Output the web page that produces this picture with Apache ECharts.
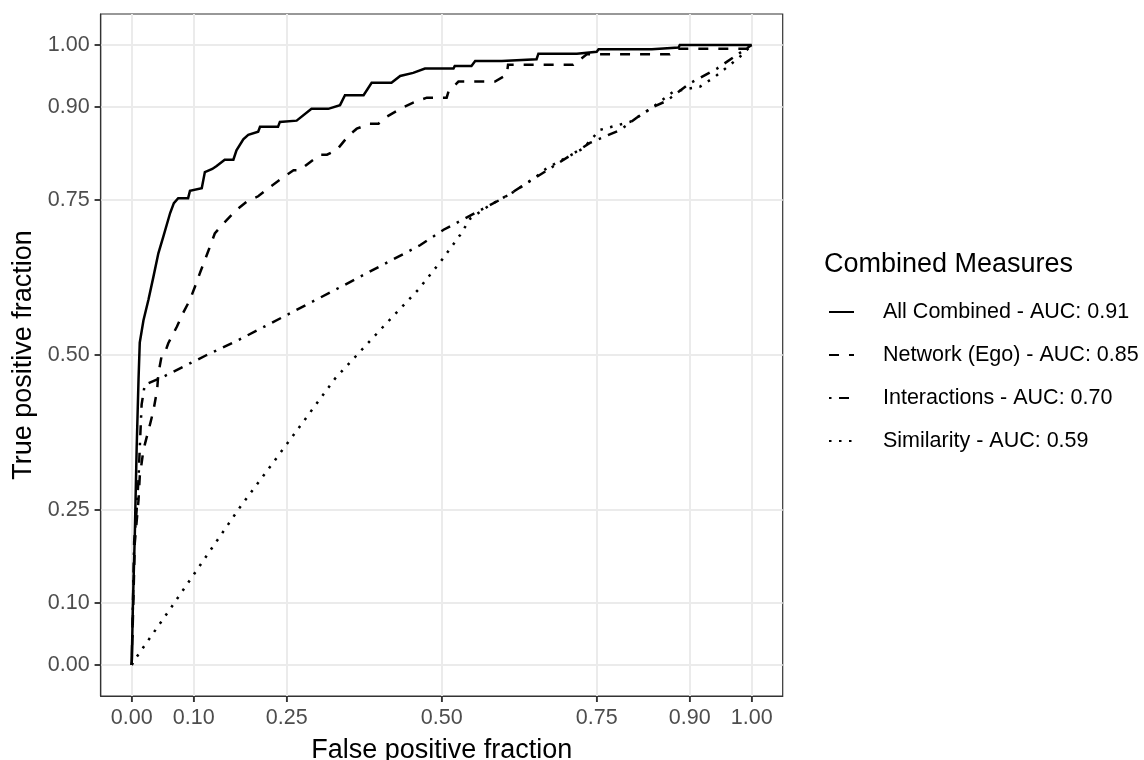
<!DOCTYPE html>
<html><head><meta charset="utf-8">
<script src="https://cdn.jsdelivr.net/npm/echarts@6/dist/echarts.min.js"></script>
<style>html,body{margin:0;padding:0;background:#fff}#c{width:1144px;height:760px}</style>
</head><body><div id="c"></div>
<script>
const xBreaks = [0, 0.1, 0.25, 0.5, 0.75, 0.9, 1];
const yBreaks = [0, 0.1, 0.25, 0.5, 0.75, 0.9, 1];
const legendTitle = 'Combined Measures';
const seriesNames = ['All Combined - AUC: 0.91', 'Network (Ego) - AUC: 0.85', 'Interactions - AUC: 0.70', 'Similarity - AUC: 0.59'];

const allFpr = [0,0.002,0.005,0.008,0.011,0.013,0.019,0.027,0.035,0.043,0.051,0.062,0.068,0.075,0.091,0.094,0.113,0.118,0.13,0.137,0.150,0.164,0.169,0.180,0.188,0.204,0.207,0.236,0.239,0.266,0.29,0.317,0.336,0.344,0.374,0.387,0.419,0.433,0.454,0.473,0.519,0.521,0.548,0.554,0.597,0.600,0.653,0.656,0.718,0.72,0.75,0.753,0.839,0.842,0.882,0.884,1.0];
const allTpr = [0,0.1,0.21,0.35,0.46,0.52,0.556,0.589,0.626,0.664,0.691,0.729,0.745,0.753,0.753,0.765,0.769,0.795,0.8,0.805,0.815,0.815,0.83,0.848,0.855,0.86,0.868,0.868,0.876,0.878,0.897,0.897,0.903,0.919,0.919,0.939,0.939,0.95,0.955,0.962,0.962,0.966,0.966,0.974,0.974,0.977,0.977,0.986,0.986,0.989,0.989,0.993,0.993,0.996,0.996,1.0,1.0];

const egoFpr = [0,0.003,0.005,0.011,0.013,0.018,0.021,0.03,0.035,0.041,0.043,0.048,0.054,0.059,0.073,0.083,0.094,0.102,0.110,0.124,0.134,0.148,0.169,0.185,0.204,0.223,0.242,0.261,0.271,0.285,0.304,0.315,0.331,0.349,0.363,0.384,0.398,0.411,0.435,0.454,0.476,0.508,0.511,0.527,0.586,0.605,0.607,0.712,0.734,0.868,0.881,0.992,1];
const egoTpr = [0,0.116,0.197,0.266,0.304,0.34,0.355,0.39,0.41,0.444,0.47,0.497,0.505,0.519,0.546,0.568,0.589,0.61,0.632,0.669,0.696,0.712,0.734,0.747,0.756,0.771,0.785,0.798,0.798,0.809,0.823,0.823,0.831,0.853,0.865,0.873,0.873,0.884,0.898,0.907,0.915,0.915,0.925,0.941,0.941,0.952,0.968,0.968,0.985,0.985,0.994,0.994,1];

const intFpr = [0,0.002,0.004,0.008,0.011,0.013,0.016,0.021,0.051,0.121,0.172,0.328,0.465,0.503,0.599,0.667,0.739,0.788,0.815,0.841,0.863,0.9,0.944,0.976,1];
const intTpr = [0,0.1,0.2,0.25,0.3,0.35,0.42,0.452,0.465,0.5,0.524,0.605,0.677,0.702,0.753,0.796,0.842,0.863,0.883,0.9,0.91,0.938,0.962,0.984,1];

const simFpr = [0,0.008,0.0645,0.175,0.25,0.328,0.406,0.462,0.5,0.53,0.546,0.578,0.616,0.653,0.669,0.728,0.755,0.804,0.841,0.874,0.917,0.941,0.965,0.981,1];
const simTpr = [0,0.013,0.094,0.255,0.356,0.462,0.546,0.605,0.653,0.694,0.72,0.742,0.763,0.788,0.801,0.833,0.863,0.876,0.9,0.925,0.933,0.949,0.968,0.981,1];

const FONT = 'Liberation Sans, Arial, sans-serif';
const AX_MIN = -0.05, AX_MAX = 1.05;
const TICK_LEN = 6;
function pairs(xs, ys){ return xs.map((x,i)=>[x, ys[i]]); }
const dashTypes = ['solid', [10,10], [2.5,7.5,10,7.5], [2.5,7.5]];
const curves = [[allFpr,allTpr],[egoFpr,egoTpr],[intFpr,intTpr],[simFpr,simTpr]];

const chart = echarts.init(document.getElementById('c'), null, {renderer:'canvas'});

function tickSeries(name, values, isX){
  return {
    name: name, type: 'custom', silent: true, clip: false, z: 10,
    data: values.map(v => [v]),
    renderItem: function(params, api){
      const v = api.value(0);
      const p = isX ? api.coord([v, AX_MIN]) : api.coord([AX_MIN, v]);
      const shape = isX ? {x1: p[0], y1: p[1], x2: p[0], y2: p[1] + TICK_LEN}
                        : {x1: p[0] - TICK_LEN, y1: p[1], x2: p[0], y2: p[1]};
      return {type: 'line', shape: shape, style: {stroke: '#333333', lineWidth: 1.5}};
    }
  };
}

const series = [{
  name: '_grid', type: 'line', data: [], silent: true,
  markLine: {
    silent: true, symbol: ['none','none'], z: 0, animation: false,
    label: {show: false},
    lineStyle: {color: '#EBEBEB', width: 2, type: 'solid'},
    emphasis: {disabled: true},
    data: xBreaks.map(v=>({xAxis: v})).concat(yBreaks.map(v=>({yAxis: v})))
  }
}].concat(curves.map((c,i)=>({
  name: seriesNames[i], type: 'line', data: pairs(c[0], c[1]),
  symbol: 'none', showSymbol: false, z: 3,
  lineStyle: {color: '#000', width: 2.5, type: dashTypes[i], cap: 'butt', join: 'miter'},
  itemStyle: {color: '#000'},
  emphasis: {disabled: true}
}))).concat([tickSeries('_xticks', xBreaks, true), tickSeries('_yticks', yBreaks, false)]);

const axisLineStyle = {show: true, onZero: false, lineStyle: {color: '#333333', width: 1.2}};

chart.setOption({
  animation: false,
  backgroundColor: '#fff',
  grid: {left: 100.7, right: 361.3, top: 14, bottom: 64, show: true, borderColor: '#333333', borderWidth: 1.2,
    backgroundColor: 'transparent', containLabel: false, outerBoundsMode: 'none'},
  title: {text: legendTitle, left: 824, top: 251, padding: 0,
    textStyle: {fontFamily: FONT, fontSize: 27, fontWeight: 'normal', color: '#000'}},
  legend: {
    orient: 'vertical', left: 828, top: 301, padding: 0,
    itemWidth: 25, itemHeight: 22, itemGap: 21,
    data: seriesNames,
    itemStyle: {opacity: 0},
    textStyle: {fontFamily: FONT, fontSize: 21.5, color: '#000', padding: [0,0,0,24], lineHeight: 22}
  },
  xAxis: {
    type: 'value', min: AX_MIN, max: AX_MAX, position: 'bottom',
    name: 'False positive fraction', nameLocation: 'middle', nameGap: 41,
    nameTextStyle: {fontFamily: FONT, fontSize: 27, color: '#000'},
    axisLine: axisLineStyle,
    axisTick: {show: true, inside: false, customValues: xBreaks, length: TICK_LEN, lineStyle: {color: '#333333', width: 1.5}},
    axisLabel: {customValues: xBreaks, margin: 11, fontFamily: FONT, fontSize: 21.5, color: '#4D4D4D', formatter: v => v.toFixed(2)},
    splitLine: {show: false}
  },
  yAxis: {
    type: 'value', min: AX_MIN, max: AX_MAX, position: 'left',
    name: 'True positive fraction', nameLocation: 'middle', nameGap: 64,
    nameTextStyle: {fontFamily: FONT, fontSize: 27, color: '#000'},
    axisLine: axisLineStyle,
    axisTick: {show: true, inside: false, customValues: yBreaks, length: TICK_LEN, lineStyle: {color: '#333333', width: 1.5}},
    axisLabel: {customValues: yBreaks, margin: 11, fontFamily: FONT, fontSize: 21.5, color: '#4D4D4D', formatter: v => v.toFixed(2)},
    splitLine: {show: false}
  },
  series: series
});
</script></body></html>
